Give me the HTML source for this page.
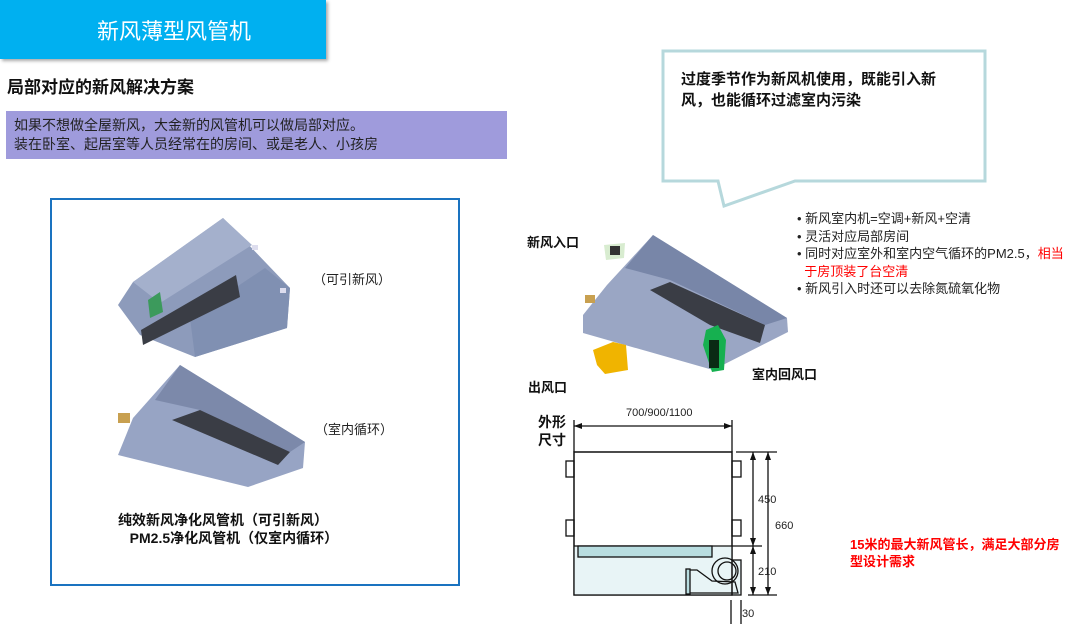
<!DOCTYPE html>
<html><head><meta charset="utf-8"><style>
body{margin:0;width:1080px;height:624px;background:#fff;position:relative;overflow:hidden;font-family:"Liberation Sans","Noto Sans CJK SC",sans-serif;}
.a{position:absolute;white-space:nowrap;}
</style></head><body>
<div class="a" style="left:0;top:0;width:326px;height:59px;background:#00b0f0;box-shadow:2px 2px 3px #aaa;"></div>
<div class="a" style="left:97px;top:14px;font-size:22px;color:#fff;">新风薄型风管机</div>
<div class="a" style="left:7px;top:73px;font-size:17px;font-weight:bold;color:#111;">局部对应的新风解决方案</div>
<div class="a" style="left:6px;top:111px;width:501px;height:48px;background:#9f9bdc;"></div>
<div class="a" style="left:14px;top:116px;font-size:14px;line-height:19px;color:#222;">如果不想做全屋新风，大金新的风管机可以做局部对应。<br>装在卧室、起居室等人员经常在的房间、或是老人、小孩房</div>

<div class="a" style="left:50px;top:198px;width:406px;height:384px;border:2px solid #1a73c0;"></div>

<svg class="a" style="left:0;top:0" width="1080" height="624">
<!-- top left unit -->
<polygon points="118,305 133,282 223,218 290,288 287,328 195,357 140,335" fill="#8d9bbb"/>
<polygon points="133,282 223,218 252,245 160,303" fill="#a4b0cc"/>
<polygon points="195,357 287,328 290,288 265,268 190,318" fill="#8090b2"/>
<polygon points="141,330 236,275 240,297 143,345" fill="#3a3d45"/>
<polygon points="148,300 160,292 163,312 150,318" fill="#3c9a5c"/>
<rect x="252" y="245" width="6" height="5" fill="#dde"/><rect x="280" y="288" width="6" height="5" fill="#dde"/>
<!-- bottom left unit -->
<polygon points="118,455 133,418 180,365 305,442 303,468 248,487" fill="#97a4c4"/>
<polygon points="155,400 180,365 305,442 290,452 200,410" fill="#7c89aa"/>
<polygon points="172,420 200,410 290,452 278,465" fill="#3a3d45"/>
<rect x="118" y="413" width="12" height="10" fill="#c8a050"/>
<!-- right unit -->
<polygon points="583,333 583,315 607,285 653,235 787,318 788,332 713,370" fill="#9aa6c4"/>
<polygon points="625,268 653,235 787,318 765,325 670,280" fill="#7886a8"/>
<polygon points="650,290 670,282 765,325 760,343 710,325" fill="#3a3d45"/>
<rect x="585" y="295" width="10" height="8" fill="#c8a050"/>
<polygon points="604,245 625,243 624,258 606,260" fill="#d8ecd0"/><rect x="610" y="246" width="10" height="9" fill="#333"/>
<polygon points="593,350 613,342 626,345 628,370 605,374 597,365" fill="#f0b400"/>
<polygon points="706,330 718,325 726,340 724,370 712,372 703,345" fill="#16b050"/><rect x="709" y="340" width="10" height="28" fill="#0a2a14"/>

<!-- callout -->
<polygon points="663,51 985,51 985,181 795,181 724,206 718,181 663,181" fill="#fff" stroke="#b6d8dc" stroke-width="3"/>

<!-- dimension drawing -->
<g stroke="#111" stroke-width="1.3" fill="none">
<rect x="574" y="452" width="158" height="143" fill="#fff"/>
<rect x="574" y="546" width="158" height="49" fill="#e8f4f6" stroke="none"/>
<rect x="732" y="560" width="9" height="35" fill="#e8f4f6"/>
<rect x="574" y="452" width="158" height="143"/>
<line x1="574" y1="546" x2="762" y2="546"/>
<rect x="578" y="546" width="134" height="11" fill="#b8dde0"/>
<rect x="566" y="461" width="8" height="16"/><rect x="566" y="520" width="8" height="16"/>
<rect x="732" y="461" width="9" height="16"/><rect x="732" y="520" width="9" height="16"/>
<circle cx="725" cy="571" r="13"/><circle cx="727" cy="571" r="9"/>
<polyline points="690,570 697,570 712,581 735,582 738,593 690,593"/><rect x="686" y="569" width="4" height="25" fill="#b8dde0"/>
<line x1="574" y1="426" x2="732" y2="426"/><line x1="574" y1="420" x2="574" y2="452"/><line x1="732" y1="420" x2="732" y2="452"/>
<line x1="736" y1="452" x2="777" y2="452"/><line x1="748" y1="595" x2="777" y2="595"/>
<line x1="753" y1="452" x2="753" y2="595"/><line x1="768" y1="452" x2="768" y2="595"/>
<line x1="731" y1="600" x2="731" y2="624"/><line x1="741" y1="600" x2="741" y2="624"/>
</g>
<g fill="#111">
<polygon points="574,426 582,423 582,429"/><polygon points="732,426 724,423 724,429"/>
<polygon points="753,452 750,460 756,460"/><polygon points="753,546 750,538 756,538"/>
<polygon points="753,546 750,554 756,554"/><polygon points="753,595 750,587 756,587"/>
<polygon points="768,452 765,460 771,460"/><polygon points="768,595 765,587 771,587"/>
</g>
</svg>

<div class="a" style="left:681px;top:69px;font-size:15px;font-weight:bold;line-height:21px;color:#111;">过度季节作为新风机使用，既能引入新<br>风，也能循环过滤室内污染</div>

<div class="a" style="left:313px;top:269px;font-size:13px;color:#222;">（可引新风）</div>
<div class="a" style="left:315px;top:419px;font-size:13px;color:#222;">（室内循环）</div>
<div class="a" style="left:118px;top:511px;font-size:14px;font-weight:bold;line-height:18px;color:#111;">纯效新风净化风管机（可引新风）<br>&nbsp;&nbsp;&nbsp;PM2.5净化风管机（仅室内循环）</div>

<div class="a" style="left:527px;top:232px;font-size:13px;font-weight:bold;color:#111;">新风入口</div>
<div class="a" style="left:528px;top:377px;font-size:13px;font-weight:bold;color:#111;">出风口</div>
<div class="a" style="left:752px;top:364px;font-size:13px;font-weight:bold;color:#111;">室内回风口</div>
<div class="a" style="left:797px;top:210px;font-size:13px;line-height:17.5px;color:#222;">• 新风室内机=空调+新风+空清<br>• 灵活对应局部房间<br>• 同时对应室外和室内空气循环的PM2.5，<span style="color:#f00">相当</span><br>&nbsp;&nbsp;<span style="color:#f00">于房顶装了台空清</span><br>• 新风引入时还可以去除氮硫氧化物</div>

<div class="a" style="left:538px;top:413px;font-size:14px;font-weight:bold;line-height:18px;color:#111;">外形<br>尺寸</div>
<div class="a" style="left:626px;top:407px;font-size:11px;color:#222;">700/900/1100</div>
<div class="a" style="left:758px;top:494px;font-size:11px;color:#222;">450</div>
<div class="a" style="left:775px;top:520px;font-size:11px;color:#222;">660</div>
<div class="a" style="left:758px;top:566px;font-size:11px;color:#222;">210</div>
<div class="a" style="left:742px;top:608px;font-size:11px;color:#222;">30</div>
<div class="a" style="left:850px;top:536px;font-size:13px;font-weight:bold;line-height:17px;color:#f00;">15米的最大新风管长，满足大部分房<br>型设计需求</div>
</body></html>
